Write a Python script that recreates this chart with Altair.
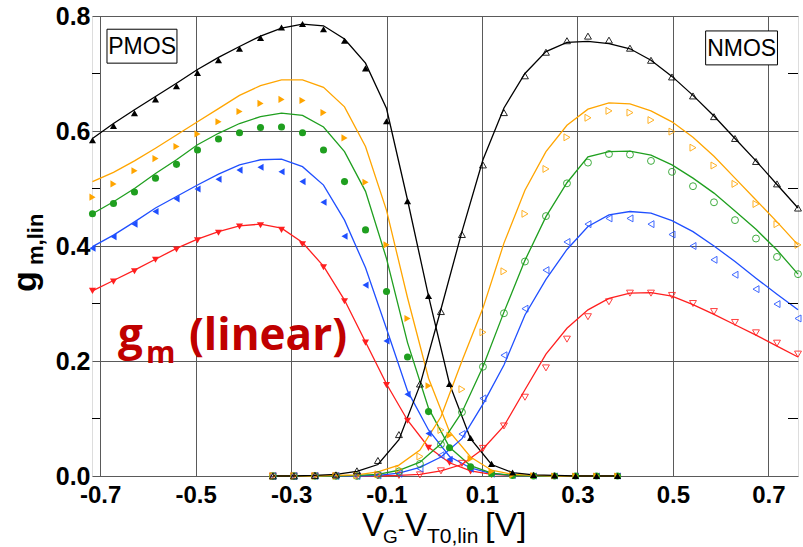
import altair as alt
import pandas as pd

# ---------------- data ----------------
x_pmos = [-0.716, -0.672, -0.628, -0.584, -0.540, -0.496, -0.452, -0.408, -0.364, -0.320,
          -0.276, -0.232, -0.188, -0.144, -0.100, -0.056, -0.012, 0.032, 0.076, 0.120,
          0.164, 0.208, 0.252, 0.296, 0.340, 0.384]
x_nmos = [-0.338, -0.294, -0.250, -0.206, -0.162, -0.118, -0.074, -0.030, 0.014, 0.058,
          0.102, 0.146, 0.190, 0.234, 0.278, 0.322, 0.366, 0.410, 0.454, 0.498,
          0.542, 0.586, 0.630, 0.674, 0.718, 0.762]

series = ["black", "orange", "green", "blue", "red"]
colors = ["#000000", "#FFA500", "#1F9F1F", "#1F4FFF", "#FF1F1F"]
shapes = ["triangle-up", "triangle-right", "circle", "triangle-left", "triangle-down"]

# PMOS measured (filled markers)
pmos_black_meas = [0.584, 0.609, 0.631, 0.655, 0.678, 0.701, 0.723, 0.743, 0.762, 0.780, 0.786, 0.777, 0.757,
                   0.709, 0.617, 0.478, 0.313, 0.160, 0.066, 0.021, 0.006, 0.002, 0.001, 0.0, 0.0, 0.0]
pmos_orange_meas = [0.485, 0.508, 0.531, 0.552, 0.573, 0.595, 0.616, 0.634, 0.648, 0.655, 0.653, 0.632, 0.588,
                    0.511, 0.402, 0.274, 0.157, 0.071, 0.030, 0.008, 0.002, 0.001, 0.0, 0.0, 0.0, 0.0]
pmos_green_meas = [0.456, 0.474, 0.494, 0.518, 0.542, 0.567, 0.586, 0.597, 0.606, 0.607, 0.597, 0.567, 0.512,
                   0.428, 0.321, 0.207, 0.112, 0.049, 0.016, 0.004, 0.001, 0.0, 0.0, 0.0, 0.0, 0.0]
pmos_blue_meas = [0.396, 0.416, 0.438, 0.460, 0.482, 0.499, 0.516, 0.532, 0.537, 0.529, 0.512, 0.476, 0.417,
                  0.332, 0.235, 0.142, 0.074, 0.029, 0.012, 0.003, 0.001, 0.0, 0.0, 0.0, 0.0, 0.0]
pmos_red_meas = [0.322, 0.338, 0.356, 0.376, 0.394, 0.410, 0.423, 0.434, 0.436, 0.428, 0.403, 0.363, 0.304,
                 0.232, 0.158, 0.096, 0.049, 0.023, 0.008, 0.002, 0.001, 0.0, 0.0, 0.0, 0.0, 0.0]

# PMOS model (lines)
pmos_black_model = [0.587, 0.613, 0.637, 0.660, 0.683, 0.707, 0.728, 0.747, 0.765, 0.779, 0.786, 0.783, 0.760,
                    0.718, 0.639, 0.480, 0.313, 0.160, 0.065, 0.020, 0.006, 0.002, 0.001, 0.0, 0.0, 0.0]
pmos_orange_model = [0.512, 0.528, 0.548, 0.570, 0.593, 0.616, 0.639, 0.662, 0.679, 0.689, 0.689, 0.676, 0.642,
                     0.573, 0.462, 0.310, 0.170, 0.077, 0.033, 0.010, 0.003, 0.001, 0.0, 0.0, 0.0, 0.0]
pmos_green_model = [0.456, 0.477, 0.500, 0.526, 0.550, 0.576, 0.596, 0.613, 0.625, 0.631, 0.627, 0.607, 0.564,
                    0.495, 0.378, 0.232, 0.118, 0.050, 0.018, 0.005, 0.001, 0.0, 0.0, 0.0, 0.0, 0.0]
pmos_blue_model = [0.399, 0.419, 0.442, 0.466, 0.486, 0.506, 0.525, 0.541, 0.550, 0.551, 0.538, 0.506, 0.445,
                   0.362, 0.256, 0.148, 0.080, 0.034, 0.014, 0.004, 0.001, 0.0, 0.0, 0.0, 0.0, 0.0]
pmos_red_model = [0.322, 0.340, 0.358, 0.377, 0.396, 0.412, 0.425, 0.435, 0.438, 0.431, 0.406, 0.365, 0.306,
                  0.233, 0.160, 0.097, 0.050, 0.023, 0.009, 0.003, 0.001, 0.0, 0.0, 0.0, 0.0, 0.0]

# NMOS measured (open markers)
nmos_black_meas = [0.0, 0.0, 0.001, 0.002, 0.009, 0.027, 0.072, 0.160, 0.286, 0.420, 0.541, 0.632, 0.696,
                   0.737, 0.757, 0.765, 0.758, 0.744, 0.723, 0.694, 0.661, 0.625, 0.587, 0.547, 0.508, 0.466]
nmos_orange_meas = [0.0, 0.0, 0.0, 0.0, 0.001, 0.003, 0.012, 0.034, 0.080, 0.151, 0.250, 0.356, 0.456,
                    0.534, 0.589, 0.623, 0.635, 0.632, 0.619, 0.599, 0.571, 0.540, 0.508, 0.473, 0.438, 0.402]
nmos_green_meas = [0.0, 0.0, 0.0, 0.0, 0.0, 0.002, 0.008, 0.021, 0.055, 0.111, 0.190, 0.283, 0.373,
                   0.452, 0.509, 0.545, 0.560, 0.559, 0.548, 0.529, 0.504, 0.476, 0.445, 0.413, 0.381, 0.351]
nmos_blue_meas = [0.0, 0.0, 0.0, 0.0, 0.0, 0.001, 0.004, 0.013, 0.036, 0.073, 0.135, 0.210, 0.291,
                  0.358, 0.407, 0.438, 0.448, 0.448, 0.438, 0.420, 0.400, 0.376, 0.350, 0.325, 0.299, 0.274]
nmos_red_meas = [0.0, 0.0, 0.0, 0.0, 0.0, 0.0, 0.001, 0.002, 0.009, 0.022, 0.048, 0.087, 0.137,
                 0.188, 0.238, 0.277, 0.303, 0.318, 0.318, 0.314, 0.300, 0.286, 0.267, 0.249, 0.231, 0.212]

# NMOS model (lines)
nmos_black_model = [0.0, 0.0, 0.001, 0.003, 0.008, 0.020, 0.063, 0.158, 0.290, 0.425, 0.550, 0.640, 0.700,
                    0.738, 0.754, 0.756, 0.752, 0.743, 0.723, 0.695, 0.662, 0.626, 0.587, 0.548, 0.507, 0.466]
nmos_orange_model = [0.0, 0.0, 0.0, 0.001, 0.002, 0.007, 0.019, 0.045, 0.103, 0.200, 0.292, 0.405, 0.497,
                     0.564, 0.610, 0.638, 0.649, 0.647, 0.635, 0.616, 0.589, 0.556, 0.518, 0.480, 0.442, 0.402]
nmos_green_model = [0.0, 0.0, 0.0, 0.0, 0.001, 0.003, 0.010, 0.024, 0.056, 0.111, 0.190, 0.285, 0.375,
                    0.451, 0.510, 0.555, 0.564, 0.565, 0.558, 0.541, 0.518, 0.492, 0.461, 0.429, 0.393, 0.351]
nmos_blue_model = [0.0, 0.0, 0.0, 0.0, 0.0, 0.001, 0.005, 0.015, 0.033, 0.065, 0.125, 0.193, 0.280,
                   0.342, 0.394, 0.434, 0.454, 0.460, 0.457, 0.444, 0.425, 0.400, 0.373, 0.344, 0.316, 0.289]
nmos_red_model = [0.0, 0.0, 0.0, 0.0, 0.0, 0.0, 0.001, 0.003, 0.009, 0.020, 0.047, 0.087, 0.150,
                  0.212, 0.257, 0.289, 0.309, 0.318, 0.319, 0.313, 0.298, 0.281, 0.263, 0.245, 0.226, 0.207]

x_ticks = [-0.7, -0.5, -0.3, -0.1, 0.1, 0.3, 0.5, 0.7]
y_ticks = [0.0, 0.2, 0.4, 0.6, 0.8]
y_minor = [0.1, 0.3, 0.5, 0.7]

# ---------------- tables ----------------
pmos_meas = dict(zip(series, [pmos_black_meas, pmos_orange_meas, pmos_green_meas, pmos_blue_meas, pmos_red_meas]))
pmos_model = dict(zip(series, [pmos_black_model, pmos_orange_model, pmos_green_model, pmos_blue_model, pmos_red_model]))
nmos_meas = dict(zip(series, [nmos_black_meas, nmos_orange_meas, nmos_green_meas, nmos_blue_meas, nmos_red_meas]))
nmos_model = dict(zip(series, [nmos_black_model, nmos_orange_model, nmos_green_model, nmos_blue_model, nmos_red_model]))

rows = []
for dev, xs, meas, model in [("PMOS", x_pmos, pmos_meas, pmos_model), ("NMOS", x_nmos, nmos_meas, nmos_model)]:
    for s in reversed(series):  # black drawn last (on top)
        for xv, mv, lv in zip(xs, meas[s], model[s]):
            rows.append({"device": dev, "series": s, "x": xv, "meas": mv, "model": lv, "key": dev + s})
df = pd.DataFrame(rows)

xscale = alt.Scale(domain=[-0.717, 0.762], nice=False, zero=False)
yscale = alt.Scale(domain=[0.0, 0.8], nice=False, zero=False)
cscale = alt.Scale(domain=series, range=colors)
sscale = alt.Scale(domain=series, range=shapes)

GRID = "#5a5a5a"
LABEL_FONT = "Liberation Sans"

x_axis = alt.Axis(values=x_ticks, title=None, grid=True, gridColor=GRID, gridWidth=1,
                  ticks=False, domain=False, labelFont=LABEL_FONT, labelFontSize=24,
                  labelFontWeight="bold", labelColor="black", labelPadding=7,
                  labelExpr="(datum.value < 0 ? '-' : '') + format(abs(datum.value), '.1f')")
y_axis = alt.Axis(values=y_ticks, title=None, grid=True, gridColor=GRID, gridWidth=1,
                  ticks=False, domain=False, labelFont=LABEL_FONT, labelFontSize=25,
                  labelFontWeight="bold", labelColor="black", labelPadding=2, format=".1f")


def X(field):
    return alt.X(field, scale=xscale, axis=x_axis)


def Y(field):
    return alt.Y(field, scale=yscale, axis=y_axis)


base = alt.Chart(df)

lines = base.mark_line(strokeWidth=1.3).encode(
    x=X("x:Q"), y=Y("model:Q"),
    color=alt.Color("series:N", scale=cscale, legend=None),
    detail="key:N",
    order="x:Q",
)

filled_pts = alt.Chart(df[df.device == "PMOS"]).mark_point(filled=True, size=50, opacity=1).encode(
    x=X("x:Q"), y=Y("meas:Q"),
    color=alt.Color("series:N", scale=cscale, legend=None),
    shape=alt.Shape("series:N", scale=sscale, legend=None),
)

open_pts = alt.Chart(df[df.device == "NMOS"]).mark_point(filled=False, size=48, strokeWidth=1, opacity=0.85).encode(
    x=X("x:Q"), y=Y("meas:Q"),
    color=alt.Color("series:N", scale=cscale, legend=None),
    shape=alt.Shape("series:N", scale=sscale, legend=None),
)

# minor ticks on left and right inner edges
minor_df = pd.DataFrame({"y": y_minor})
minor_left = alt.Chart(minor_df).mark_rule(color="black", strokeWidth=1).encode(
    y=Y("y:Q"), x=alt.value(0), x2=alt.value(8))
minor_right = alt.Chart(minor_df).mark_rule(color="black", strokeWidth=1).encode(
    y=Y("y:Q"), x=alt.value(696), x2=alt.value(706))

# PMOS / NMOS boxed labels
box_df = pd.DataFrame({
    "x": [-0.6856, 0.5685], "x2": [-0.539, 0.719],
    "y": [0.718, 0.715], "y2": [0.777, 0.774],
    "xc": [-0.612, 0.644], "yc": [0.7475, 0.745],
    "label": ["PMOS", "NMOS"],
})
boxes = alt.Chart(box_df).mark_rect(fill="white", stroke="black", strokeWidth=1).encode(
    x=X("x:Q"), x2="x2:Q", y=Y("y:Q"), y2="y2:Q")
box_text = alt.Chart(box_df).mark_text(font=LABEL_FONT, fontSize=23, align="center",
                                       baseline="middle", color="black", dy=1).encode(
    x=X("xc:Q"), y=Y("yc:Q"), text="label:N")

# "g_m (linear)" annotation
ann_df = pd.DataFrame({
    "x": [-0.6625, -0.604, -0.514],
    "y": [0.219, 0.1965, 0.219],
    "text": ["g", "m", "(linear)"],
    "size": [44, 30, 44],
})
ann = alt.Chart(ann_df).mark_text(font="Open Sans", fontWeight="bold", color="#C00000",
                                  align="left", baseline="alphabetic").encode(
    x=X("x:Q"), y=Y("y:Q"),
    text="text:N", size=alt.Size("size:Q", scale=None, legend=None))


# axis titles with subscripts (pixel positions relative to plot area)
def txt(s, x, y, size, angle=0, weight="normal"):
    m = alt.Chart(pd.DataFrame({"t": [s]})).mark_text(
        font=LABEL_FONT, fontSize=size, fontWeight=weight, align="left", baseline="alphabetic", color="black")
    return m.encode(text="t:N", x=alt.value(x), y=alt.value(y), angle=alt.value(angle))


xtitle = [
    txt("V", 270, 520, 33),
    txt("G", 291, 527, 19),
    txt("-", 306, 520, 22),
    txt("V", 313, 520, 33),
    txt("T0,lin", 335, 527, 21),
    txt("[V]", 393, 520, 34),
]
ytitle = [
    txt("g", -56, 276, 34, angle=270, weight="bold"),
    txt("m,lin", -49, 249, 22, angle=270, weight="bold"),
]

chart = alt.layer(
    lines, minor_left, minor_right, filled_pts, open_pts, boxes, box_text, ann, *xtitle, *ytitle
).properties(
    width=706, height=460, autosize="none",
    padding={"left": 92, "top": 16, "right": 5, "bottom": 71},
).configure_view(stroke="black", strokeWidth=1).configure(background="white")

chart.save("out.html", embed_options={"renderer": "svg", "actions": False})
